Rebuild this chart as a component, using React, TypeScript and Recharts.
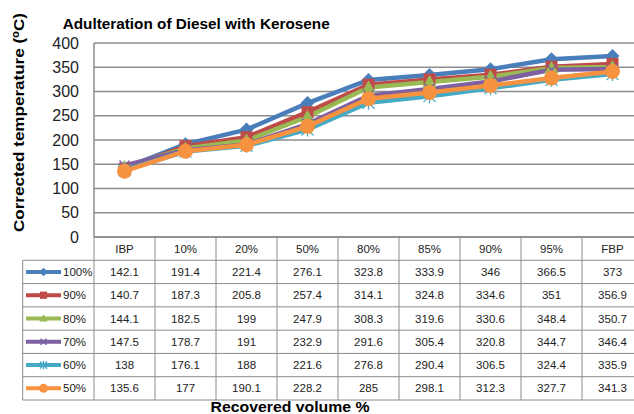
import React from "react";
import { LineChart, Line, XAxis, YAxis, CartesianGrid } from "recharts";

const categories = ["IBP", "10%", "20%", "50%", "80%", "85%", "90%", "95%", "FBP"];
const seriesNames = ["100%", "90%", "80%", "70%", "60%", "50%"];
const s100 = [142.1, 191.4, 221.4, 276.1, 323.8, 333.9, 346, 366.5, 373];
const s90 = [140.7, 187.3, 205.8, 257.4, 314.1, 324.8, 334.6, 351, 356.9];
const s80 = [144.1, 182.5, 199, 247.9, 308.3, 319.6, 330.6, 348.4, 350.7];
const s70 = [147.5, 178.7, 191, 232.9, 291.6, 305.4, 320.8, 344.7, 346.4];
const s60 = [138, 176.1, 188, 221.6, 276.8, 290.4, 306.5, 324.4, 335.9];
const s50 = [135.6, 177, 190.1, 228.2, 285, 298.1, 312.3, 327.7, 341.3];
const yTicks = [0, 50, 100, 150, 200, 250, 300, 350, 400];

const allSeries = [s100, s90, s80, s70, s60, s50];
const colors = ["#4A7EBB", "#BE4B48", "#98B954", "#7D60A0", "#46AAC5", "#F69240"];
const markers = ["diamond", "square", "triangle", "x", "star", "circle"];

const data = categories.map((c, i) => {
  const row: Record<string, string | number> = { cat: c };
  seriesNames.forEach((n, k) => (row[n] = allSeries[k][i]));
  return row;
});

// layout
const W = 660;
const H = 414;
const M = { top: 43, right: 17, bottom: 14, left: 0 };
const Y_W = 94;
const X_H = 163;
const PLOT_L = M.left + Y_W;
const PLOT_R = W - M.right;
const COL_W = (PLOT_R - PLOT_L) / categories.length;
const TABLE_TOP = H - M.bottom - X_H;
const ROW_H = X_H / 7;
const LEGEND_L = 22.7;
const GRID = "#8c8c8c";
const TABLE_FONT = "'Liberation Sans Narrow', 'Liberation Sans', Arial, sans-serif";

function Marker({ kind, cx, cy, color, s = 1 }: { kind: string; cx: number; cy: number; color: string; s?: number }) {
  const d = (v: number) => v * s;
  if (kind === "diamond")
    return (
      <polygon
        points={`${cx},${cy - d(7)} ${cx + d(7)},${cy} ${cx},${cy + d(7)} ${cx - d(7)},${cy}`}
        fill={color}
      />
    );
  if (kind === "square") return <rect x={cx - d(6)} y={cy - d(6)} width={d(12)} height={d(12)} fill={color} />;
  if (kind === "triangle")
    return (
      <polygon points={`${cx},${cy - d(7)} ${cx + d(7)},${cy + d(5)} ${cx - d(7)},${cy + d(5)}`} fill={color} />
    );
  if (kind === "x")
    return (
      <g stroke={color} strokeWidth={1.5}>
        <line x1={cx - d(5)} y1={cy - d(5)} x2={cx + d(5)} y2={cy + d(5)} />
        <line x1={cx - d(5)} y1={cy + d(5)} x2={cx + d(5)} y2={cy - d(5)} />
      </g>
    );
  if (kind === "star")
    return (
      <g stroke={color} strokeWidth={1.3}>
        <line x1={cx - d(6)} y1={cy - d(6)} x2={cx + d(6)} y2={cy + d(6)} />
        <line x1={cx - d(6)} y1={cy + d(6)} x2={cx + d(6)} y2={cy - d(6)} />
        <line x1={cx} y1={cy - d(7)} x2={cx} y2={cy + d(7)} />
      </g>
    );
  return <circle cx={cx} cy={cy} r={d(7.5)} fill={color} />;
}

function TableColumn(props: any) {
  const { x, payload } = props;
  const idx = categories.indexOf(payload.value);
  const left = x - COL_W / 2;
  const right = x + COL_W / 2;
  const bottom = TABLE_TOP + ROW_H * 7;
  const cells = allSeries.map((s) => s[idx]);
  return (
    <g>
      <line x1={left} y1={TABLE_TOP} x2={left} y2={bottom} stroke={GRID} />
      {idx === categories.length - 1 && <line x1={right} y1={TABLE_TOP} x2={right} y2={bottom} stroke={GRID} />}
      {[1, 2, 3, 4, 5, 6, 7].map((r) => (
        <line key={r} x1={left} y1={TABLE_TOP + ROW_H * r} x2={right} y2={TABLE_TOP + ROW_H * r} stroke={GRID} />
      ))}
      <text x={x} y={TABLE_TOP + ROW_H / 2 + 4} textAnchor="middle" fontSize={11.5} fontFamily={TABLE_FONT} fill="#222">
        {payload.value}
      </text>
      {cells.map((v, r) => (
        <text
          key={r}
          x={x}
          y={TABLE_TOP + ROW_H * (r + 1.5) + 4}
          textAnchor="middle"
          fontSize={11.5}
          fontFamily={TABLE_FONT}
          fill="#222"
        >
          {v}
        </text>
      ))}
      {idx === 0 && (
        <g>
          <line x1={LEGEND_L} y1={TABLE_TOP + ROW_H} x2={LEGEND_L} y2={bottom} stroke={GRID} />
          {[1, 2, 3, 4, 5, 6, 7].map((r) => (
            <line key={r} x1={LEGEND_L} y1={TABLE_TOP + ROW_H * r} x2={left} y2={TABLE_TOP + ROW_H * r} stroke={GRID} />
          ))}
          {seriesNames.map((n, k) => {
            const cy = TABLE_TOP + ROW_H * (k + 1.5);
            return (
              <g key={n}>
                <line x1={26} y1={cy} x2={61} y2={cy} stroke={colors[k]} strokeWidth={4} />
                <Marker kind={markers[k]} cx={43.5} cy={cy} color={colors[k]} s={0.6} />
                <text x={63} y={cy + 4} fontSize={11.5} fontFamily={TABLE_FONT} fill="#222">
                  {n}
                </text>
              </g>
            );
          })}
        </g>
      )}
    </g>
  );
}

export default function App() {
  return (
    <div
      style={{
        position: "absolute",
        left: 0,
        top: 0,
        width: 634,
        height: 414,
        overflow: "hidden",
        background: "#fff",
      }}
    >
      <LineChart width={W} height={H} data={data} margin={M}>
        <CartesianGrid vertical={false} stroke={GRID} strokeWidth={1.5} />
        <XAxis
          dataKey="cat"
          scale="band"
          height={X_H}
          tickLine={false}
          axisLine={{ stroke: GRID, strokeWidth: 1.5 }}
          tick={<TableColumn />}
          interval={0}
        />
        <YAxis
          width={Y_W}
          domain={[0, 400]}
          ticks={yTicks}
          tickSize={0}
          tickMargin={15}
          tickLine={false}
          axisLine={{ stroke: GRID, strokeWidth: 1.5 }}
          tick={{ fontSize: 16, fontFamily: "'Liberation Sans', Arial, sans-serif", fill: "#222" }}
        />
        {seriesNames.map((n, k) => (
          <Line
            key={n}
            dataKey={n}
            stroke={colors[k]}
            strokeWidth={4.5}
            isAnimationActive={false}
            dot={(p: any) => <Marker key={`${n}-${p.index}`} kind={markers[k]} cx={p.cx} cy={p.cy} color={colors[k]} />}
            activeDot={false}
          />
        ))}
      </LineChart>
      <svg
        width={634}
        height={414}
        style={{ position: "absolute", left: 0, top: 0, pointerEvents: "none" }}
      >
        <text
          x={62.7}
          y={29}
          fontSize={15}
          fontWeight="bold"
          fontFamily="'Liberation Sans', Arial, sans-serif"
          textLength={267}
          lengthAdjust="spacingAndGlyphs"
          fill="#000"
        >
          Adulteration of Diesel with Kerosene
        </text>
        <text
          transform="translate(23.5,232) rotate(-90)"
          fontSize={15}
          fontWeight="bold"
          fontFamily="'Liberation Sans', Arial, sans-serif"
          textLength={219}
          lengthAdjust="spacingAndGlyphs"
          fill="#000"
        >
          Corrected temperature (<tspan fontSize={10} dy={-5}>o</tspan>
          <tspan dy={5}>C)</tspan>
        </text>
        <text
          x={290}
          y={412}
          textAnchor="middle"
          fontSize={14.5}
          fontWeight="bold"
          fontFamily="'Liberation Sans', Arial, sans-serif"
          textLength={159}
          lengthAdjust="spacingAndGlyphs"
          fill="#000"
        >
          Recovered volume %
        </text>
      </svg>
    </div>
  );
}
